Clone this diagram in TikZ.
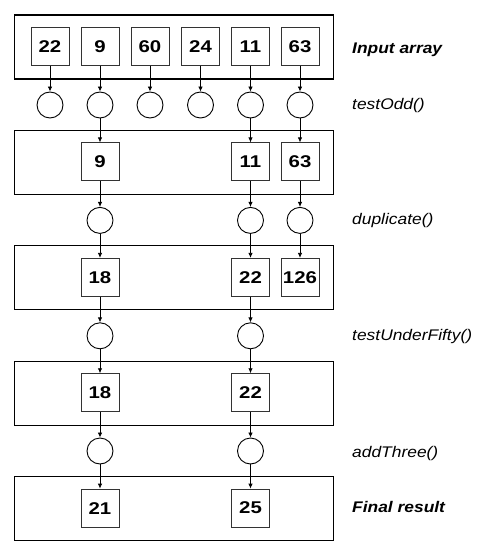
\documentclass[tikz,border=0pt]{standalone}
\usepackage{fontspec}
\setmainfont{Liberation Sans}
\newfontfamily\labelfont[FakeStretch=1.13]{Liberation Sans}
\newfontfamily\numfont[FakeStretch=1.2]{Liberation Sans}
\usetikzlibrary{arrows.meta}
\begin{document}
\begin{tikzpicture}[x=1pt,y=-1pt,
  stage/.style={draw=black,line width=1.1pt},
  valbox/.style={draw=black!80,line width=0.9pt,minimum width=38pt,minimum height=38pt,
    inner sep=0pt,font=\numfont\fontsize{17}{17}\selectfont\bfseries},
  filt/.style={draw=black,line width=0.9pt,circle,minimum size=26pt,inner sep=0pt},
  flow/.style={draw=black,line width=0.8pt,-{Latex[length=5pt,width=4.5pt]}},
  plain/.style={draw=black,line width=0.8pt},
  lbl/.style={anchor=base west,inner sep=0pt,font=\labelfont\fontsize{15.4}{16}\selectfont\itshape},
  lblb/.style={lbl,font=\labelfont\fontsize{15.4}{16}\selectfont\itshape\bfseries}]
\useasboundingbox (0,0) rectangle (482,556);

% stage frames
\foreach \t in {15,130.4,245.8,361.2,476.6}
  \draw[stage] (14.3,\t) rectangle (333.3,\t+64);

% input array
\node[valbox] (a1) at (50,46.5) {22};
\node[valbox] (a2) at (100,46.5) {9};
\node[valbox] (a3) at (150,46.5) {60};
\node[valbox] (a4) at (200.5,46.5) {24};
\node[valbox] (a5) at (250.5,46.5) {11};
\node[valbox] (a6) at (300,46.5) {63};

% testOdd filters
\foreach \i/\x in {1/50,2/100,3/150,4/200.5,5/250.5,6/300}
  \node[filt] (f\i) at (\x,105) {};
\foreach \i in {1,...,6}
  \draw[flow] (a\i) -- (f\i);

% odd values
\node[valbox] (b2) at (100,161.9) {9};
\node[valbox] (b5) at (250.5,161.9) {11};
\node[valbox] (b6) at (300,161.9) {63};
\foreach \i in {2,5,6}
  \draw[flow] (f\i) -- (b\i);

% duplicate
\foreach \i/\x in {2/100,5/250.5,6/300}
  \node[filt] (g\i) at (\x,220.4) {};
\node[valbox] (c2) at (100,277.3) {18};
\node[valbox] (c5) at (250.5,277.3) {22};
\node[valbox] (c6) at (300,277.3) {126};
\foreach \i in {2,5,6}{
  \draw[flow] (b\i) -- (g\i);
  \draw[flow] (g\i) -- (c\i);}

% testUnderFifty
\foreach \i/\x in {2/100,5/250.5}
  \node[filt] (h\i) at (\x,335.8) {};
\node[valbox] (d2) at (100,392.7) {18};
\node[valbox] (d5) at (250.5,392.7) {22};
\foreach \i in {2,5}{
  \draw[flow] (c\i) -- (h\i);
  \draw[flow] (h\i) -- (d\i);}

% addThree
\foreach \i/\x in {2/100,5/250.5}
  \node[filt] (k\i) at (\x,451) {};
\node[valbox] (e2) at (100,508.1) {21};
\node[valbox] (e5) at (250.5,508.1) {25};
\foreach \i in {2,5}{
  \draw[flow] (d\i) -- (k\i);
  \draw[flow] (k\i) -- (e\i);}

% stage labels
\node[lblb] (l1) at (352,54) {Input array};
\node[lbl]  (l2) at (352,109.3) {testOdd()};
\node[lbl]  (l3) at (352,224.3) {duplicate()};
\node[lbl]  (l4) at (352,340.7) {testUnderFifty()};
\node[lbl]  (l5) at (352,457.5) {addThree()};
\node[lblb] (l6) at (352,512.5) {Final result};
\end{tikzpicture}
\end{document}
